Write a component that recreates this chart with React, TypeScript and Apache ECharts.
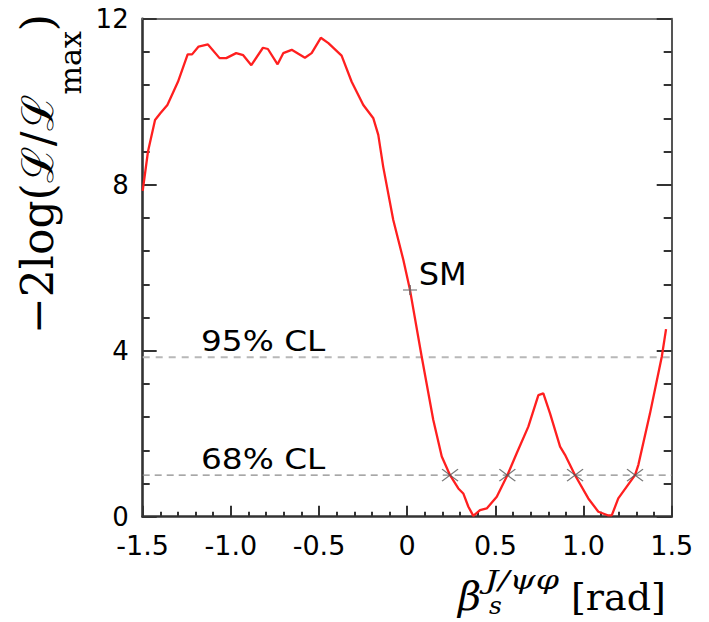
import React, { useEffect, useRef } from "react";
import * as echarts from "echarts";

// beta_s values (rad) and -2 log(L/Lmax)
const betaS = [
  -1.5, -1.47, -1.43, -1.4, -1.36, -1.3, -1.245, -1.22, -1.183, -1.13,
  -1.064, -1.026, -0.97, -0.93, -0.884, -0.818, -0.79, -0.735, -0.703, -0.655,
  -0.58, -0.542, -0.49, -0.447, -0.372, -0.315, -0.249, -0.192, -0.164, -0.136,
  -0.079, -0.022, 0.016, 0.082, 0.148, 0.196, 0.243, 0.29, 0.318, 0.347,
  0.375, 0.413, 0.451, 0.508, 0.568, 0.621, 0.687, 0.744, 0.772, 0.81,
  0.867, 0.895, 0.952, 1.027, 1.084, 1.141, 1.16, 1.197, 1.292, 1.311,
  1.377, 1.444, 1.468,
];
const nll = [
  7.85, 8.8, 9.56, 9.72, 9.92, 10.48, 11.14, 11.14, 11.33, 11.38,
  11.05, 11.05, 11.17, 11.12, 10.88, 11.3, 11.27, 10.9, 11.17, 11.25,
  11.06, 11.17, 11.54, 11.41, 11.11, 10.48, 9.92, 9.6, 9.2, 8.43,
  7.15, 6.19, 5.46, 3.86, 2.33, 1.45, 1.0, 0.68, 0.56, 0.24,
  0.02, 0.16, 0.2, 0.48, 1.0, 1.53, 2.17, 2.93, 2.97, 2.49,
  1.69, 1.49, 1.0, 0.44, 0.12, 0.03, 0.03, 0.44, 1.0, 1.25,
  2.49, 3.86, 4.52,
];

// confidence levels
const clNames = ["95% CL", "68% CL"];
const clLevels = [3.84, 1.0];

// crossings of the 68% CL line
const crossX = [0.243, 0.568, 0.952, 1.292];
const crossY = [1.0, 1.0, 1.0, 1.0];

// Standard Model point
const smPoint = [0.016, 5.46];
const smLabel = "SM";

const xTicks = { min: -1.5, max: 1.5, interval: 0.5 };
const yTicks = { min: 0, max: 12, interval: 4 };

export default function App() {
  const ref = useRef<HTMLDivElement>(null);

  useEffect(() => {
    if (!ref.current) return;
    const chart = echarts.init(ref.current, null, { renderer: "svg" });

    const axisColor = "#333";

    const option: any = {
      animation: false,
      backgroundColor: "#fff",
      grid: { left: 142.7, right: 37.3, top: 18.7, bottom: 105.3, containLabel: false },
      xAxis: [
        {
          type: "value",
          min: xTicks.min,
          max: xTicks.max,
          interval: xTicks.interval,
          position: "bottom",
          axisLine: { show: true, onZero: false, lineStyle: { color: axisColor, width: 2.6 } },
          axisTick: { show: true, inside: true, length: 11, lineStyle: { color: axisColor, width: 2 } },
          minorTick: { show: true, splitNumber: 5, length: 5, lineStyle: { color: axisColor, width: 2 } },
          axisLabel: {
            fontFamily: "DejaVu Sans",
            fontSize: 27,
            color: "#000",
            lineHeight: 24,
            margin: 17,
            formatter: (v: number) => (v === 0 ? "0" : v.toFixed(1)),
          },
          splitLine: { show: false },
        },
        {
          type: "value",
          min: xTicks.min,
          max: xTicks.max,
          interval: xTicks.interval,
          position: "top",
          axisLine: { show: true, onZero: false, lineStyle: { color: "#777", width: 2 } },
          axisTick: { show: false },
          axisLabel: { show: false },
          splitLine: { show: false },
        },
      ],
      yAxis: [
        {
          type: "value",
          min: yTicks.min,
          max: yTicks.max,
          interval: yTicks.interval,
          position: "left",
          axisLine: { show: true, onZero: false, lineStyle: { color: axisColor, width: 2.6 } },
          axisTick: { show: true, inside: true, length: 14, lineStyle: { color: axisColor, width: 2 } },
          minorTick: { show: true, splitNumber: 5, length: 7, lineStyle: { color: axisColor, width: 2 } },
          axisLabel: {
            fontFamily: "DejaVu Sans",
            fontSize: 26,
            color: "#000",
            lineHeight: 24,
            padding: [0, 0, 4, 0],
            margin: 14,
            formatter: (v: number) => String(v),
          },
          splitLine: { show: false },
        },
        {
          type: "value",
          min: yTicks.min,
          max: yTicks.max,
          interval: yTicks.interval,
          position: "right",
          axisLine: { show: true, onZero: false, lineStyle: { color: "#555", width: 2 } },
          axisTick: { show: true, inside: true, length: 15, lineStyle: { color: axisColor, width: 2 } },
          minorTick: { show: true, splitNumber: 5, length: 8, lineStyle: { color: axisColor, width: 2 } },
          axisLabel: { show: false },
          splitLine: { show: false },
        },
      ],
      series: [
        {
          type: "line",
          name: clNames[0],
          data: [
            [xTicks.min, clLevels[0]],
            [xTicks.max, clLevels[0]],
          ],
          showSymbol: false,
          silent: true,
          lineStyle: { color: "#b8b8b8", width: 2, type: [7, 6] },
          z: 1,
        },
        {
          type: "line",
          name: clNames[1],
          data: [
            [xTicks.min, clLevels[1]],
            [xTicks.max, clLevels[1]],
          ],
          showSymbol: false,
          silent: true,
          lineStyle: { color: "#8a8a8a", width: 1.2, type: [7, 5] },
          z: 1,
        },
        {
          type: "line",
          name: "profile",
          data: betaS.map((x, i) => [x, nll[i]]),
          showSymbol: false,
          silent: true,
          clip: true,
          lineStyle: { color: "#ff1f1f", width: 2.3 },
          z: 3,
        },
        {
          type: "scatter",
          name: "crossings",
          data: crossX.map((x, i) => [x, crossY[i]]),
          symbol: "path://M0,0L16,12M16,0L0,12",
          symbolSize: [16, 12],
          silent: true,
          itemStyle: { color: "rgba(0,0,0,0)", borderColor: "#555", borderWidth: 1.2 },
          z: 4,
        },
        {
          type: "scatter",
          name: "SM",
          data: [smPoint],
          symbol: "path://M0,5L14,5M7,0L7,10",
          symbolSize: [14, 10],
          silent: true,
          itemStyle: { color: "rgba(0,0,0,0)", borderColor: "#666", borderWidth: 1.2, opacity: 1 },
          label: {
            show: true,
            position: "right",
            distance: 1,
            offset: [0, -16],
            formatter: () => smLabel,
            fontFamily: "DejaVu Sans",
            fontSize: 32,
            color: "#000",
            opacity: 1,
          },
          z: 4,
        },
      ],
      graphic: [
        {
          type: "text",
          x: 201,
          y: 341,
          scaleX: 1.13,
          silent: true,
          style: {
            text: clNames[0],
            fontFamily: "DejaVu Sans",
            fontSize: 29,
            fill: "#000",
            verticalAlign: "middle",
          },
        },
        {
          type: "text",
          x: 201,
          y: 459,
          scaleX: 1.13,
          silent: true,
          style: {
            text: clNames[1],
            fontFamily: "DejaVu Sans",
            fontSize: 29,
            fill: "#000",
            verticalAlign: "middle",
          },
        },
        {
          type: "text",
          x: 50,
          y: 174,
          rotation: Math.PI / 2,
          silent: true,
          style: {
            text: "{a|\u22122log(\u2112/\u2112}{b|max}{a|)}",
            align: "center",
            verticalAlign: "middle",
            fill: "#000",
            rich: {
              a: { fontFamily: "DejaVu Serif", fontSize: 44, lineHeight: 70, verticalAlign: "top", fill: "#000" },
              b: { fontFamily: "DejaVu Serif", fontSize: 30, lineHeight: 30, verticalAlign: "bottom", fill: "#000" },
            },
          },
        },
        {
          type: "text",
          x: 458,
          y: 596,
          silent: true,
          style: {
            text: "\u03b2",
            fontFamily: "DejaVu Serif",
            fontStyle: "italic",
            fontSize: 40,
            fill: "#000",
            verticalAlign: "middle",
          },
        },
        {
          type: "text",
          x: 485,
          y: 580,
          scaleX: 1.28,
          silent: true,
          style: {
            text: "J/\u03c8\u03c6",
            fontFamily: "DejaVu Serif",
            fontStyle: "italic",
            fontSize: 26,
            fill: "#000",
            verticalAlign: "middle",
          },
        },
        {
          type: "text",
          x: 489,
          y: 605,
          silent: true,
          style: {
            text: "s",
            fontFamily: "DejaVu Serif",
            fontStyle: "italic",
            fontSize: 25,
            fill: "#000",
            verticalAlign: "middle",
          },
        },
        {
          type: "text",
          x: 571,
          y: 597,
          silent: true,
          style: {
            text: "[rad]",
            fontFamily: "DejaVu Serif",
            fontSize: 38,
            fill: "#000",
            verticalAlign: "middle",
          },
        },
      ],
    };

    chart.setOption(option);
    return () => chart.dispose();
  }, []);

  return (
    <div
      ref={ref}
      style={{ position: "fixed", left: 0, top: 0, width: 709, height: 622, background: "#fff" }}
    />
  );
}
